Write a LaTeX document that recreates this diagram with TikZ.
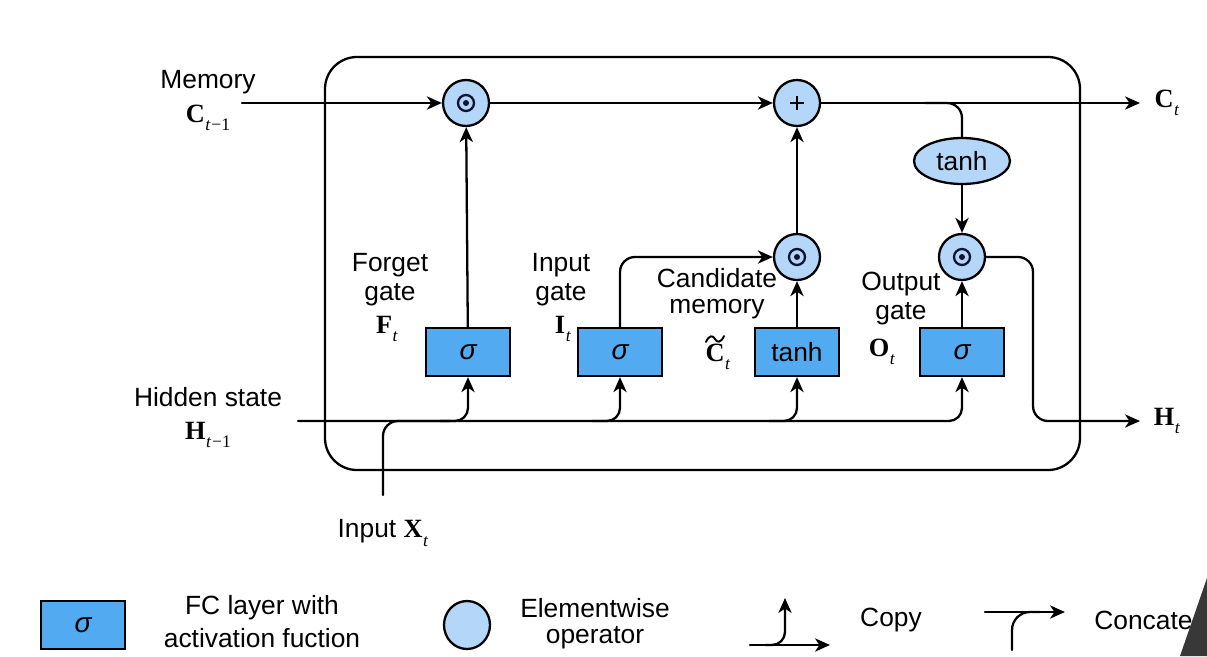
\documentclass[tikz,border=0pt]{standalone}
\usepackage{fontspec}
\usepackage{graphicx}
\setmainfont{Liberation Sans}
\newfontfamily\tmsf{Liberation Serif}
\usetikzlibrary{arrows.meta,shapes.geometric,calc}
\definecolor{boxblue}{RGB}{82,170,240}
\definecolor{circblue}{RGB}{180,214,248}
\definecolor{dotnavy}{RGB}{15,20,50}
\newcommand\mvar[2]{{\tmsf\bfseries #1}\kern0.3pt\raisebox{-0.6ex}{\tmsf\fontsize{10}{10}\selectfont #2}}
\newcommand\tsub{\textit{t}}
\newcommand\tmone{\textit{t}\kern0.5pt−1}
\begin{document}
\begin{tikzpicture}[x=0.02cm,y=-0.02cm,
  every node/.style={font=\fontsize{15}{18}\selectfont, inner sep=0pt},
  ln/.style={line width=1.3pt, line cap=round},
  arr/.style={ln, -{Stealth[length=8.5pt,width=7.5pt,inset=2.5pt]}},
  fcbox/.style={draw, line width=1.3pt, fill=boxblue, minimum width=1.68cm, minimum height=0.96cm},
  opcirc/.style={draw, line width=1.3pt, fill=circblue, circle, minimum size=0.92cm},
  opell/.style={draw, line width=1.3pt, fill=circblue, ellipse, minimum width=1.92cm, minimum height=0.92cm},
  sig/.style={font=\fontsize{16}{18}\selectfont\itshape},
  lab/.style={font=\fontsize{15}{18}\selectfont}
]
\useasboundingbox (0,0) rectangle (1207,656);

% outer cell
\draw[line width=1.3pt, rounded corners=0.64cm] (325,57) rectangle (1080,470);

% operators
\node[opcirc] (fmul) at (466,103) {};
\node[opcirc] (add)  at (797,103) {};
\node[opcirc] (cmul) at (797,257) {};
\node[opcirc] (omul) at (962,257) {};
\node[opell]  (tanhE) at (962,161) {tanh};
\foreach \n in {fmul,cmul,omul}{
  \draw[line width=1.3pt, draw=dotnavy] (\n) circle (0.16cm);
  \fill[dotnavy] (\n) circle (0.06cm);
}
\draw[line width=1.3pt] ($(add)+(-7,0)$) -- ($(add)+(7,0)$);
\draw[line width=1.3pt] ($(add)+(0,-7)$) -- ($(add)+(0,7)$);

% FC layers
\node[fcbox, sig] (fbox) at (468,352) {σ};
\node[fcbox, sig] (ibox) at (620,352) {σ};
\node[fcbox] (cbox) at (797,352) {tanh};
\node[fcbox, sig] (obox) at (962,352) {σ};

% coordinates
\coordinate (memin) at (242,103);
\coordinate (cout) at (1140,103);
\coordinate (brT) at (925,103);
\coordinate (hin) at (298,421);
\coordinate (xin) at (383,495);
\coordinate (xjoin) at (450,421);
\coordinate (bF) at (440,421);
\coordinate (bI) at (592,421);
\coordinate (bC) at (769,421);
\coordinate (hturn) at (1033,421);
\coordinate (hout) at (1140,421);

% memory path
\draw[arr] (memin) -- (fmul);
\draw[arr] (fmul) -- (add);
\draw[arr] (add) -- (cout);
\draw[ln, rounded corners=0.3cm] (brT) -| (tanhE.north);
\draw[arr] (tanhE) -- (omul);

% gates
\draw[arr] (fbox) -- (fmul);
\draw[arr, rounded corners=0.3cm] (ibox.north) |- (cmul);
\draw[arr] (cbox) -- (cmul);
\draw[arr] (cmul) -- (add);
\draw[arr] (obox) -- (omul);
\draw[arr, rounded corners=0.3cm] (omul.east) -| (hturn) -- (hout);

% hidden state and input
\draw[arr, rounded corners=0.26cm] (hin) -| (obox.south);
\draw[arr, rounded corners=0.26cm] (bF) -| (fbox.south);
\draw[arr, rounded corners=0.26cm] (bI) -| (ibox.south);
\draw[arr, rounded corners=0.26cm] (bC) -| (cbox.south);
\draw[ln, rounded corners=0.3cm] (xin) |- (xjoin);

% labels
\node[lab] (memL) at (208,82) {Memory};
\node (cprev) at (208,118) {\mvar{C}{\tmone}};
\node (ct) at (1167,103) {\mvar{C}{\tsub}};
\node[lab] (hidL) at (208,397) {Hidden state};
\node (hprev) at (208,435) {\mvar{H}{\tmone}};
\node (ht) at (1167,421) {\mvar{H}{\tsub}};
\node (xl) at (383,533) {Input \mvar{X}{\tsub}};

\node[lab] (fg1) at (390,265) {Forget};
\node[lab] (fg2) at (390,295) {gate};
\node (fgv) at (387,329) {\mvar{F}{\tsub}};
\node[lab] (ig1) at (561,265) {Input};
\node[lab] (ig2) at (561,295) {gate};
\node (igv) at (563,329) {\mvar{I}{\tsub}};
\node[lab] (cm1) at (717,278) {Candidate};
\node[lab] (cm2) at (717,309) {memory};
\node (cmv) at (718,357) {\mvar{C}{\tsub}};
\draw[line width=1.1pt, line cap=round] (706,342) .. controls (709,335) and (713,335) .. (715,339) .. controls (717,343) and (721,343) .. (724,336);
\node[lab] (og1) at (901,284) {Output};
\node[lab] (og2) at (901,314) {gate};
\node (ogv) at (882,352) {\mvar{O}{\tsub}};

% legend
\node[fcbox, sig] (lbox) at (83,625) {σ};
\node[lab] (l1a) at (262,608) {FC layer with};
\node[lab] (l1b) at (262,638) {activation fuction};
\node[draw, line width=1.3pt, fill=circblue, ellipse, minimum width=0.92cm, minimum height=0.96cm] (lcirc) at (467,625) {};
\node[lab] (l2a) at (595,608) {Elementwise};
\node[lab] (l2b) at (595,638) {operator};
\coordinate (cpS) at (750,645);
\coordinate (cpE) at (830,645);
\coordinate (cpB) at (765,645);
\coordinate (cpT) at (785,598);
\draw[arr] (cpS) -- (cpE);
\draw[arr, rounded corners=0.26cm] (cpB) -| (cpT);
\node[lab] (l3) at (891,620) {Copy};
\coordinate (ccS) at (985,612);
\coordinate (ccE) at (1065,612);
\coordinate (ccB) at (1012,650);
\coordinate (ccJ) at (1040,612);
\draw[arr] (ccS) -- (ccE);
\draw[ln, rounded corners=0.36cm] (ccB) |- (ccJ);
\node[lab, anchor=west] (l4) at (1094,620) {Concate};
\fill[black!78] (1207,578) -- (1180,656) -- (1207,656) -- cycle;
\end{tikzpicture}
\end{document}
